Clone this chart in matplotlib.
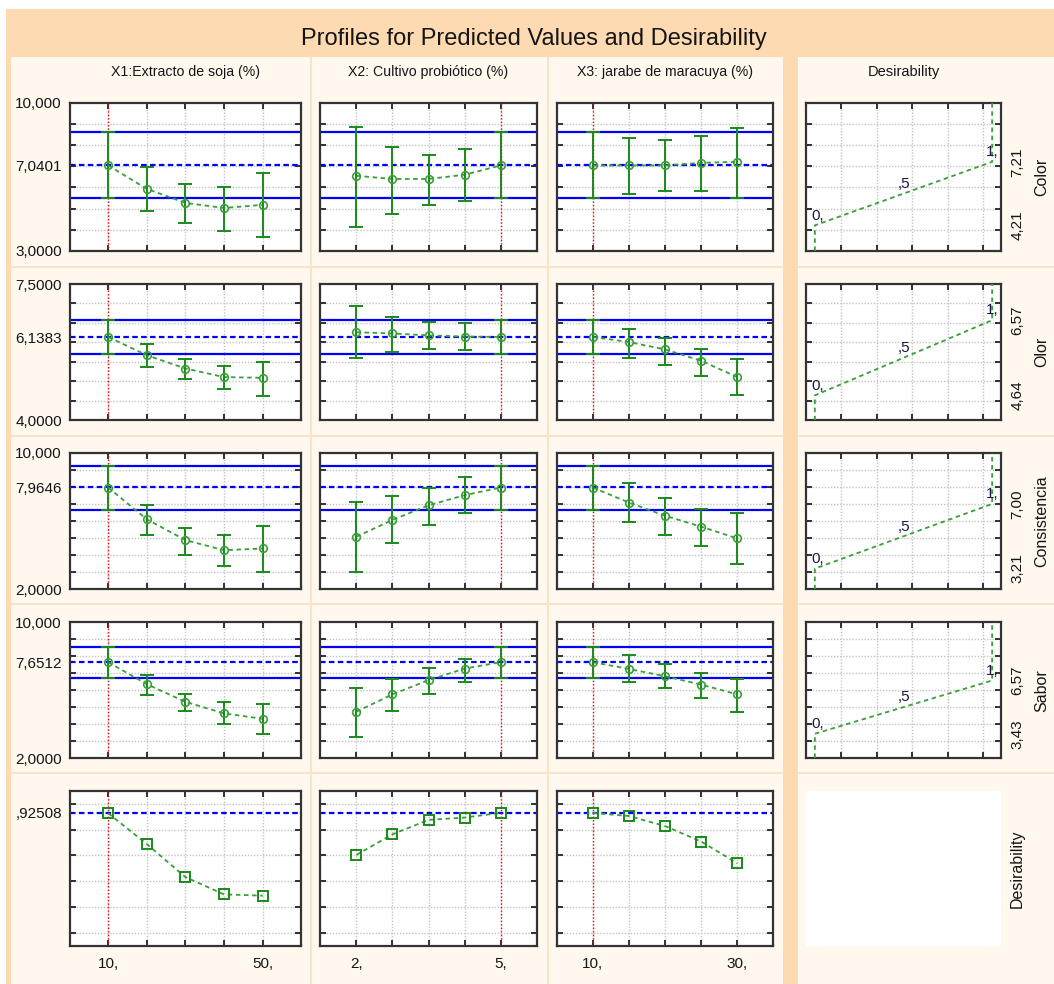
import matplotlib
matplotlib.use('Agg')
import matplotlib.pyplot as plt
from matplotlib.patches import Rectangle

plt.rcParams['font.family'] = ['Liberation Sans Narrow', 'Liberation Sans', 'DejaVu Sans']

# factor levels and settings
factor_names = ['X1:Extracto de soja (%)', 'X2: Cultivo probiótico (%)', 'X3: jarabe de maracuya (%)']
factor_levels = [[10, 20, 30, 40, 50], [2, 2.75, 3.5, 4.25, 5], [10, 15, 20, 25, 30]]
factor_current = [10, 5, 10]
factor_labels = [['10,', '', '', '', '50,'], ['2,', '', '', '', '5,'], ['10,', '', '', '', '30,']]

# responses
responses = ['Color', 'Olor', 'Consistencia', 'Sabor']
resp_current = [7.0401, 6.1383, 7.9646, 7.6512]
resp_ci_low = [5.50, 5.69, 6.65, 6.73]
resp_ci_high = [8.61, 6.57, 9.24, 8.55]
resp_ylim = [(3.0, 10.0), (4.0, 7.5), (2.0, 10.0), (2.0, 10.0)]
resp_grid = [[4, 5, 6, 7, 8, 9], [4.5, 5, 5.5, 6, 6.5, 7],
             [3, 4, 5, 6, 7, 8, 9], [3, 4, 5, 6, 7, 8, 9]]
resp_ticklabels = [['3,0000', '7,0401', '10,000'], ['4,0000', '6,1383', '7,5000'],
                   ['2,0000', '7,9646', '10,000'], ['2,0000', '7,6512', '10,000']]

color_pred = [[7.04, 5.93, 5.27, 5.03, 5.18], [6.55, 6.40, 6.40, 6.60, 7.04], [7.04, 7.04, 7.04, 7.16, 7.21]]
color_low = [[5.50, 4.89, 4.32, 3.95, 3.66], [4.13, 4.75, 5.17, 5.36, 5.50], [5.50, 5.70, 5.84, 5.84, 5.50]]
color_high = [[8.61, 6.97, 6.17, 6.03, 6.69], [8.87, 7.92, 7.55, 7.83, 8.61], [8.61, 8.34, 8.25, 8.41, 8.82]]

olor_pred = [[6.14, 5.67, 5.33, 5.11, 5.09], [6.26, 6.23, 6.18, 6.15, 6.14], [6.14, 6.01, 5.82, 5.53, 5.11]]
olor_low = [[5.69, 5.36, 5.06, 4.81, 4.63], [5.59, 5.76, 5.84, 5.80, 5.69], [5.69, 5.61, 5.43, 5.13, 4.66]]
olor_high = [[6.57, 5.96, 5.58, 5.40, 5.50], [6.94, 6.65, 6.53, 6.50, 6.57], [6.57, 6.34, 6.12, 5.83, 5.57]]

consist_pred = [[7.96, 6.10, 4.88, 4.29, 4.39], [5.08, 6.06, 6.92, 7.51, 7.96], [7.96, 7.08, 6.31, 5.67, 4.98]]
consist_low = [[6.65, 5.18, 4.00, 3.35, 3.00], [3.00, 4.69, 5.76, 6.47, 6.65], [6.65, 5.96, 5.18, 4.53, 3.51]]
consist_high = [[9.24, 6.94, 5.61, 5.18, 5.71], [7.14, 7.45, 7.96, 8.55, 9.24], [9.24, 8.22, 7.37, 6.71, 6.45]]

sabor_pred = [[7.65, 6.35, 5.31, 4.63, 4.31], [4.73, 5.75, 6.59, 7.27, 7.65], [7.65, 7.25, 6.82, 6.33, 5.75]]
sabor_low = [[6.73, 5.71, 4.78, 4.00, 3.41], [3.25, 4.78, 5.80, 6.47, 6.73], [6.73, 6.47, 6.12, 5.55, 4.71]]
sabor_high = [[8.55, 6.88, 5.76, 5.28, 5.18], [6.10, 6.63, 7.29, 7.86, 8.55], [8.55, 8.06, 7.53, 7.04, 6.63]]

# desirability functions (response value for d=0 and d=1)
desir_low = [4.21, 4.64, 3.21, 3.43]
desir_high = [7.21, 6.57, 7.00, 6.57]
desir_low_labels = ['4,21', '4,64', '3,21', '3,43']
desir_high_labels = ['7,21', '6,57', '7,00', '6,57']
desir_marks = [0, 0.5, 1]
desir_mark_labels = ['0,', ',5', '1,']

# overall desirability profiles
desirability = [[0.924, 0.804, 0.676, 0.609, 0.604],
                [0.762, 0.842, 0.898, 0.907, 0.925],
                [0.925, 0.913, 0.874, 0.814, 0.730]]
desir_current = 0.92508
desir_current_label = ',92508'
desir_ylim = (0.41, 1.01)
desir_grid = [0.46, 0.56, 0.66, 0.76, 0.86, 0.96]

pred = [color_pred, olor_pred, consist_pred, sabor_pred]
low = [color_low, olor_low, consist_low, sabor_low]
high = [color_high, olor_high, consist_high, sabor_high]

# ---- layout (pixels) ----
W, H = 1054, 984
ORANGE = '#FDDAB1'
CREAM = '#FFF8EE'
SEP = '#FCE2C6'
BLUE = '#0000FF'
GREEN = '#1A8A1A'
LGREEN = '#3A9E3A'
TXT = '#151515'
TICK_FS = 11

col_x = [(69.6, 301.3), (320.3, 536.7), (556.7, 773.3)]
dcol_x = (806, 1001)
row_y = [(102.7, 251), (284, 420.3), (452.7, 589.3), (622.3, 758), (791, 945.7)]
xlims = [(0, 60), (1.25, 5.75), (5, 35)]

fig = plt.figure(figsize=(W / 100, H / 100), dpi=100)
fig.patch.set_facecolor('white')


def rect(x0, y0, x1, y1, color, z=-10):
    fig.add_artist(Rectangle((x0 / W, 1 - y1 / H), (x1 - x0) / W, (y1 - y0) / H,
                             transform=fig.transFigure, facecolor=color,
                             edgecolor='none', zorder=z))


def add_ax(xr, yr):
    return fig.add_axes([xr[0] / W, 1 - yr[1] / H, (xr[1] - xr[0]) / W, (yr[1] - yr[0]) / H])


def ftext(x, y, s, **kw):
    fig.text(x / W, 1 - y / H, s, **kw)


# backgrounds and panel separators
rect(6, 9.3, W, H, ORANGE)
rect(10.7, 57.3, 783, H, CREAM, -9)
rect(797.7, 57.3, W, H, CREAM, -9)
for yb in [267, 436, 604, 773]:
    rect(10.7, yb - 1, 783, yb + 1, SEP, -8)
    rect(797.7, yb - 1, W, yb + 1, SEP, -8)
for xb in [311, 547.7]:
    rect(xb - 1, 57.3, xb + 1, H, SEP, -8)

ftext(534, 39, 'Profiles for Predicted Values and Desirability', fontsize=17,
      ha='center', va='center', color=TXT)
for j, name in enumerate(factor_names):
    ftext((col_x[j][0] + col_x[j][1]) / 2, 72, name, fontsize=10.2, ha='center', va='center', color=TXT)
ftext((dcol_x[0] + dcol_x[1]) / 2, 72, 'Desirability', fontsize=10.5, ha='center', va='center', color=TXT)


def style(ax, xlim, ylim, xgrid, ygrid):
    ax.set_facecolor('white')
    ax.set_xlim(*xlim)
    ax.set_ylim(*ylim)
    ax.set_xticks(xgrid, minor=True)
    ax.set_yticks(ygrid, minor=True)
    ax.set_xticks([])
    ax.set_yticks([])
    ax.xaxis.remove_overlapping_locs = False
    ax.yaxis.remove_overlapping_locs = False
    ax.grid(which='minor', color='#C4C4C4', linestyle=(0, (1, 1.2)), linewidth=1.0)
    ax.tick_params(which='minor', direction='in', length=4, width=1.3, color='#222222',
                   top=True, bottom=True, left=True, right=True)
    ax.tick_params(which='major', length=0, labelsize=TICK_FS, labelcolor=TXT)
    for sp in ax.spines.values():
        sp.set_color('#333333')
        sp.set_linewidth(1.6)
    ax.set_axisbelow(True)


for i in range(4):
    for j in range(3):
        ax = add_ax(col_x[j], row_y[i])
        style(ax, xlims[j], resp_ylim[i], factor_levels[j], resp_grid[i])
        ax.axhline(resp_ci_low[i], color=BLUE, lw=1.6, zorder=2)
        ax.axhline(resp_ci_high[i], color=BLUE, lw=1.6, zorder=2)
        ax.axhline(resp_current[i], color=BLUE, lw=1.6, linestyle=(0, (2.5, 1.5)), zorder=2)
        ax.axvline(factor_current[j], color='red', lw=1.0, linestyle=(0, (1, 1.5)), zorder=2)
        xs = factor_levels[j]
        ys = pred[i][j]
        yerr = [[y - l for y, l in zip(ys, low[i][j])], [h - y for y, h in zip(ys, high[i][j])]]
        ax.plot(xs, ys, color=LGREEN, lw=1.3, linestyle=(0, (2.5, 2)), zorder=3)
        ax.errorbar(xs, ys, yerr=yerr, fmt='none', ecolor=GREEN, elinewidth=1.4,
                    capsize=5, capthick=1.4, zorder=4)
        ax.plot(xs, ys, 'o', ms=5.5, mfc='none', mec=LGREEN, mew=1.2, zorder=5)
        if j == 0:
            lo, hi = resp_ylim[i]
            ax.set_yticks([lo, resp_current[i], hi], labels=resp_ticklabels[i])
            ax.tick_params(axis='y', which='major', pad=5.5)

    # desirability function of this response
    ax = add_ax(dcol_x, row_y[i])
    style(ax, (-0.05, 1.05), resp_ylim[i], [0.15, 0.35, 0.55, 0.75, 0.95], resp_grid[i])
    lo, hi = resp_ylim[i]
    ax.plot([0, 0, 1, 1], [lo, desir_low[i], desir_high[i], hi], color=LGREEN, lw=1.3,
            linestyle=(0, (2.5, 2)), zorder=3)
    for d, s in zip(desir_marks, desir_mark_labels):
        yv = desir_low[i] + d * (desir_high[i] - desir_low[i])
        ax.annotate(s, (d, yv), xytext=(2 if d == 0 else 0, 2), textcoords='offset points',
                    ha='center', va='bottom', fontsize=TICK_FS, color='#1a1a40', zorder=6)
    ax.set_yticks([desir_low[i], desir_high[i]], labels=[desir_low_labels[i], desir_high_labels[i]])
    ax.tick_params(axis='y', which='major', left=False, right=True, labelleft=False,
                   labelright=True, labelrotation=90, pad=7)
    for t in ax.get_yticklabels():
        t.set_va('center')
    ax.text(1.21, 0.5, responses[i], transform=ax.transAxes, rotation=90,
            ha='center', va='center', fontsize=11.5, color=TXT)

# overall desirability row
for j in range(3):
    ax = add_ax(col_x[j], row_y[4])
    style(ax, xlims[j], desir_ylim, factor_levels[j], desir_grid)
    ax.axhline(desir_current, color=BLUE, lw=1.6, linestyle=(0, (2.5, 1.5)), zorder=2)
    ax.axvline(factor_current[j], color='red', lw=1.0, linestyle=(0, (1, 1.5)), zorder=2)
    xs = factor_levels[j]
    ax.plot(xs, desirability[j], color=LGREEN, lw=1.3, linestyle=(0, (2.5, 2)), zorder=3)
    ax.plot(xs, desirability[j], 's', ms=7, mfc='none', mec=GREEN, mew=1.4, zorder=5)
    ax.set_xticks(xs, labels=factor_labels[j])
    ax.tick_params(axis='x', which='major', pad=8)
    if j == 0:
        ax.set_yticks([desir_current], labels=[desir_current_label])
        ax.tick_params(axis='y', which='major', pad=5.5)

rect(dcol_x[0], row_y[4][0], dcol_x[1], row_y[4][1], 'white', -7)
ftext(1017, (row_y[4][0] + row_y[4][1]) / 2, 'Desirability', rotation=90,
      ha='center', va='center', fontsize=11.5, color=TXT)

fig.savefig('out.png', dpi=100, facecolor='white')
